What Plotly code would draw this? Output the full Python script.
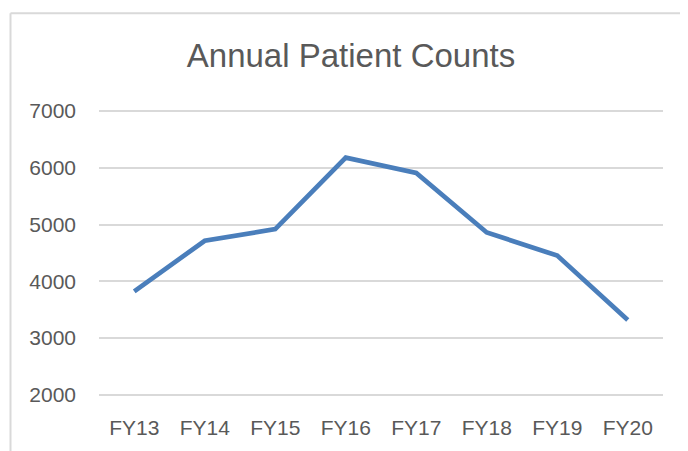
import plotly.graph_objects as go

categories = ["FY13", "FY14", "FY15", "FY16", "FY17", "FY18", "FY19", "FY20"]
patient_counts = [3825, 4716, 4920, 6181, 5909, 4862, 4454, 3319]
y_ticks = [2000, 3000, 4000, 5000, 6000, 7000]

OFF = 8  # page body margin
SW, SH = 688, 451
W, H = SW - OFF, SH - OFF
# plot area in screen pixels
PL, PR, PT, PB = 99, 663, 110, 398
L, R, T, B = PL - OFF, SW - PR, PT - OFF, SH - PB
pw, ph = PR - PL, PB - PT

def px_x(x):
    return (x - PL) / pw

def px_y(y):
    return (PB - y) / ph

fig = go.Figure()
fig.add_trace(go.Scatter(
    x=categories, y=patient_counts, mode="lines",
    line=dict(color="#4A7EBB", width=4.7),
    hoverinfo="x+y", showlegend=False,
))

font_fam = "Liberation Sans, Arial, sans-serif"
fig.update_layout(
    width=W, height=H,
    margin=dict(l=L, r=R, t=T, b=B, pad=0),
    paper_bgcolor="white", plot_bgcolor="white",
    title=dict(text="Annual Patient Counts", x=px_x(351), xref="paper", xanchor="center",
               y=1 - (55 - OFF) / H, yref="container", yanchor="middle",
               font=dict(family=font_fam, size=33, color="#595959")),
    xaxis=dict(type="category", range=[-0.5, len(categories) - 0.5],
               showgrid=False, zeroline=False, showline=False, ticks="",
               tickfont=dict(family=font_fam, size=21, color="#595959"),
               ticklabelstandoff=17, fixedrange=True),
    yaxis=dict(range=[1980, 7020], tickvals=y_ticks, showgrid=True, gridcolor="#D9D9D9",
               gridwidth=1.5, zeroline=False, showline=False, ticks="",
               tickfont=dict(family=font_fam, size=21, color="#595959"),
               ticklabelstandoff=22, fixedrange=True),
    shapes=[
        dict(type="line", xref="paper", yref="paper", x0=px_x(10.5), x1=px_x(720),
             y0=px_y(12.5), y1=px_y(12.5), line=dict(color="#D9D9D9", width=2), layer="below"),
        dict(type="line", xref="paper", yref="paper", x0=px_x(10.5), x1=px_x(10.5),
             y0=px_y(12.5), y1=px_y(480), line=dict(color="#D9D9D9", width=2), layer="below"),
    ],
)

fig.write_html("out.html")
